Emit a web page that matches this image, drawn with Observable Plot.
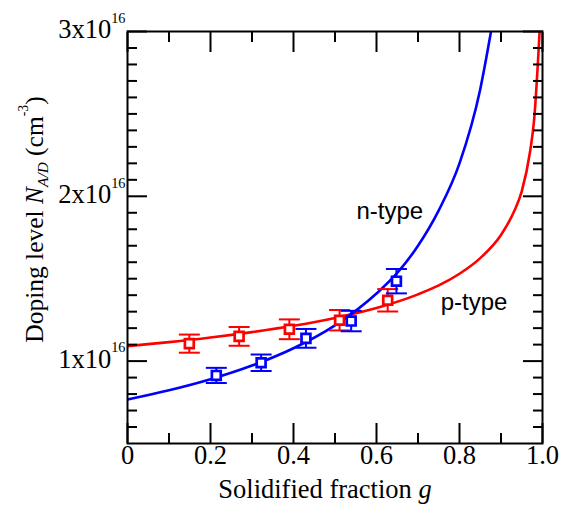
<!DOCTYPE html>
<html>
<head>
<meta charset="utf-8">
<script src="https://cdn.jsdelivr.net/npm/d3@7"></script>
<script src="https://cdn.jsdelivr.net/npm/@observablehq/plot@0.6"></script>
<style>
  html, body { margin: 0; padding: 0; background: #fff; }
  #chart { width: 561px; height: 511px; }
</style>
</head>
<body>
<div id="chart"></div>
<script>
// ---- Data (doping level in units of 1e16 cm^-3) ----
// p-type measured points
const pG   = [0.149, 0.269, 0.390, 0.511, 0.627];
const pN   = [1.106, 1.150, 1.193, 1.248, 1.369];
const pErr = [0.055, 0.057, 0.060, 0.062, 0.068];
// n-type measured points
const nG   = [0.214, 0.322, 0.430, 0.539, 0.648];
const nN   = [0.913, 0.990, 1.138, 1.243, 1.485];
const nErr = [0.046, 0.050, 0.057, 0.062, 0.074];
// fitted curves
const pFitG = [0, 0.1, 0.2, 0.3, 0.4, 0.5, 0.6, 0.7, 0.75, 0.8, 0.85, 0.9, 0.93, 0.95, 0.97, 0.98, 0.99, 0.993];
const pFitN = [1.091, 1.115, 1.143, 1.176, 1.214, 1.262, 1.322, 1.405, 1.459, 1.530, 1.625, 1.765, 1.900, 2.030, 2.270, 2.470, 2.860, 3.000];
const nFitG = [0, 0.1, 0.2, 0.3, 0.4, 0.5, 0.6, 0.65, 0.7, 0.75, 0.8, 0.85, 0.876];
const nFitN = [0.767, 0.823, 0.890, 0.973, 1.078, 1.217, 1.410, 1.535, 1.700, 1.915, 2.200, 2.650, 3.000];
// curve labels
const curveLabels = ["n-type", "p-type"];
const labelG = [0.632, 0.835];
const labelN = [1.907, 1.355];
// ticks
const xTickValues = [0, 0.2, 0.4, 0.6, 0.8, 1.0];
const xTickLabels = ["0", "0.2", "0.4", "0.6", "0.8", "1.0"];
const xMinorTicks = [0.1, 0.3, 0.5, 0.7, 0.9];
const yTickValues = [1, 2, 3];
const yTickLabels = ["1x10^{16}", "2x10^{16}", "3x10^{16}"];
const yMinorTicks = d3.range(6, 30).filter(i => i % 10 !== 0).map(i => i / 10);
const xTitle = "Solidified fraction *g*";
const yTitle = "Doping level *N*_{A/D} (cm^{-3})";

const RED = "#ff0000";
const BLUE = "#0000ff";

const ptsP = pG.map((g, i) => ({g, N: pN[i], e: pErr[i]}));
const ptsN = nG.map((g, i) => ({g, N: nN[i], e: nErr[i]}));
const fitP = pFitG.map((g, i) => ({g, N: pFitN[i]}));
const fitN = nFitG.map((g, i) => ({g, N: nFitN[i]}));
const labels = curveLabels.map((t, i) => ({t, g: labelG[i], N: labelN[i]}));

const capSymbol = {
  draw(ctx, size) {
    const r = Math.sqrt(size / Math.PI);
    ctx.moveTo(-r, 0);
    ctx.lineTo(r, 0);
  }
};
const caps = pts => pts.flatMap(d => [{g: d.g, N: d.N - d.e}, {g: d.g, N: d.N + d.e}]);

const SERIF = "'Liberation Serif', 'Times New Roman', serif";
const SANS = "'Liberation Sans', Arial, sans-serif";

function errorMarks(pts, color) {
  return [
    Plot.ruleX(pts, {x: "g", y1: d => d.N - d.e, y2: d => d.N + d.e, stroke: color, strokeWidth: 2}),
    Plot.dot(caps(pts), {x: "g", y: "N", symbol: capSymbol, r: 10.5, stroke: color, strokeWidth: 2, fill: "none"}),
    Plot.dot(pts, {x: "g", y: "N", symbol: "square", r: 5, stroke: color, strokeWidth: 2.7, fill: "white"})
  ];
}

function tickMarks(anchor, isX) {
  const ax = isX ? Plot.axisX : Plot.axisY;
  const major = isX ? xTickValues : yTickValues;
  const minor = isX ? xMinorTicks : yMinorTicks;
  return [
    ax(major, {anchor, tickSize: -20, strokeWidth: 2, stroke: "black", fill: "none", label: null}),
    ax(minor, {anchor, tickSize: -10, strokeWidth: 2, stroke: "black", fill: "none", label: null})
  ];
}

const chart = Plot.plot({
  width: 561,
  height: 511,
  marginLeft: 127,
  marginRight: 19,
  marginTop: 31,
  marginBottom: 68,
  style: {fontFamily: SERIF, fontSize: "25px", color: "#000", background: "#fff", overflow: "visible"},
  x: {domain: [0, 1], label: null},
  y: {domain: [0.5, 3], label: null},
  marks: [
    Plot.line(fitP, {x: "g", y: "N", stroke: RED, strokeWidth: 2.6, curve: "monotone-x", clip: true}),
    Plot.line(fitN, {x: "g", y: "N", stroke: BLUE, strokeWidth: 2.6, curve: "monotone-x", clip: true}),
    ...errorMarks(ptsP, RED),
    ...errorMarks(ptsN, BLUE),
    Plot.text(labels, {x: "g", y: "N", text: "t", fontFamily: SANS, fontSize: 24, textAnchor: "middle", fill: "black"}),
    Plot.frame({stroke: "black", strokeWidth: 2}),
    ...tickMarks("bottom", true),
    ...tickMarks("top", true),
    ...tickMarks("left", false),
    ...tickMarks("right", false),
    // tick labels
    Plot.text(xTickValues, {x: d => d, frameAnchor: "bottom", dy: 20, fontSize: 26.5, fontFamily: SERIF,
      textAnchor: "middle", text: d => xTickLabels[xTickValues.indexOf(d)]}),
    Plot.text(yTickValues, {y: d => d, frameAnchor: "left", dx: -2, dy: -2, fontSize: 26.5, fontFamily: SERIF,
      textAnchor: "end", text: d => yTickLabels[yTickValues.indexOf(d)]}),
    // axis titles
    Plot.text([xTitle], {text: d => d, frameAnchor: "bottom", dx: -10, dy: 54.5, fontSize: 26.5, fontFamily: SERIF, textAnchor: "middle"}),
    Plot.text([yTitle], {text: d => d, frameAnchor: "left", rotate: -90, dx: -93, dy: -18, fontSize: 25.5, fontFamily: SERIF, textAnchor: "middle"})
  ]
});

document.getElementById("chart").appendChild(chart);

// turn ^{..} / _{..} / *..* markup into real tspans
function richify(svgEl) {
  svgEl.querySelectorAll("text").forEach(t => {
    const s = t.textContent;
    if (!/[\^_*]/.test(s)) return;
    const base = parseFloat(getComputedStyle(t).fontSize) || 25;
    const re = /\^\{([^}]*)\}|_\{([^}]*)\}|\*([^*]*)\*|([^\^_*]+)/g;
    const segs = [];
    let m;
    while ((m = re.exec(s))) {
      if (m[1] !== undefined) segs.push({text: m[1], kind: "sup"});
      else if (m[2] !== undefined) segs.push({text: m[2], kind: "sub"});
      else if (m[3] !== undefined) segs.push({text: m[3], kind: "it"});
      else segs.push({text: m[4], kind: "n"});
    }
    while (t.firstChild) t.removeChild(t.firstChild);
    let cur = 0;
    for (const g of segs) {
      const ts = document.createElementNS("http://www.w3.org/2000/svg", "tspan");
      let shift = 0;
      if (g.kind === "sup") { shift = -0.57 * base; ts.setAttribute("font-size", (0.54 * base).toFixed(1)); }
      if (g.kind === "sub") { shift = 0.22 * base; ts.setAttribute("font-size", (0.6 * base).toFixed(1)); ts.setAttribute("font-style", "italic"); }
      if (g.kind === "it") ts.setAttribute("font-style", "italic");
      if (shift !== cur) { ts.setAttribute("dy", (shift - cur).toFixed(1)); cur = shift; }
      ts.textContent = g.text;
      t.appendChild(ts);
    }
  });
}
richify(chart);
</script>
</body>
</html>
